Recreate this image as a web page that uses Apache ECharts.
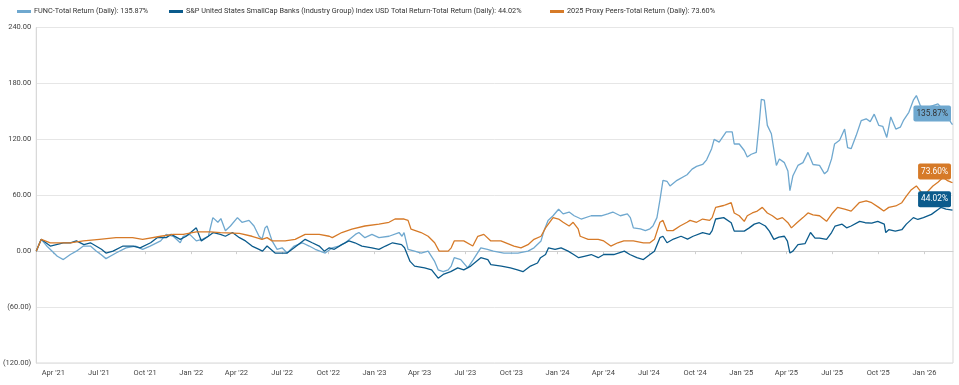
<!DOCTYPE html>
<html><head><meta charset="utf-8">
<script src="https://cdn.jsdelivr.net/npm/echarts@6.0.0/dist/echarts.min.js"></script>
<style>html,body{margin:0;padding:0;background:#fff}#c{width:959px;height:385px}</style>
</head><body><div id="c"></div>
<script>
const seriesNames = [
  "FUNC-Total Return (Daily): 135.87%",
  "S&P United States SmallCap Banks (Industry Group) Index USD Total Return-Total Return (Daily): 44.02%",
  "2025 Proxy Peers-Total Return (Daily): 73.60%"
];
const endLabels = ["135.87%", "44.02%", "73.60%"];
const colors = ["#6FA8CF", "#0B5B8C", "#D67A28"];
const labelTextColors = ["#333333", "#ffffff", "#ffffff"];

const funcDates = ['2021-02-26','2021-03-08','2021-03-20','2021-04-09','2021-04-21','2021-05-05','2021-05-17','2021-05-31','2021-06-14','2021-06-26','2021-07-05','2021-07-15','2021-08-04','2021-08-24','2021-09-12','2021-09-26','2021-10-11','2021-11-01','2021-11-12','2021-11-26','2021-12-10','2021-12-16','2021-12-29','2022-01-11','2022-01-24','2022-02-04','2022-02-13','2022-02-23','2022-03-01','2022-03-10','2022-03-20','2022-04-03','2022-04-12','2022-04-26','2022-05-06','2022-05-16','2022-05-22','2022-05-28','2022-06-01','2022-06-11','2022-06-21','2022-07-01','2022-07-11','2022-07-25','2022-08-10','2022-08-24','2022-09-05','2022-09-25','2022-10-09','2022-10-22','2022-11-04','2022-11-24','2022-12-01','2022-12-13','2022-12-27','2023-01-10','2023-01-30','2023-02-19','2023-02-25','2023-03-01','2023-03-09','2023-03-22','2023-04-04','2023-04-18','2023-05-01','2023-05-08','2023-05-18','2023-05-28','2023-06-03','2023-06-09','2023-06-22','2023-07-06','2023-07-17','2023-08-01','2023-08-14','2023-08-26','2023-09-16','2023-10-14','2023-11-03','2023-11-15','2023-11-29','2023-12-05','2023-12-13','2023-12-23','2024-01-03','2024-01-12','2024-01-24','2024-02-03','2024-02-17','2024-03-08','2024-03-28','2024-04-10','2024-04-20','2024-05-05','2024-05-19','2024-05-25','2024-05-31','2024-06-14','2024-06-24','2024-07-03','2024-07-09','2024-07-17','2024-07-23','2024-07-29','2024-08-06','2024-08-12','2024-08-26','2024-09-15','2024-09-25','2024-10-04','2024-10-16','2024-10-24','2024-11-03','2024-11-08','2024-11-18','2024-12-02','2024-12-14','2024-12-18','2024-12-28','2025-01-07','2025-01-13','2025-01-21','2025-01-31','2025-02-06','2025-02-10','2025-02-16','2025-02-22','2025-03-02','2025-03-12','2025-03-18','2025-03-28','2025-04-04','2025-04-08','2025-04-14','2025-04-24','2025-05-04','2025-05-14','2025-05-24','2025-06-06','2025-06-16','2025-06-22','2025-06-30','2025-07-06','2025-07-16','2025-07-26','2025-08-01','2025-08-08','2025-08-18','2025-08-28','2025-09-07','2025-09-15','2025-09-23','2025-10-02','2025-10-10','2025-10-18','2025-10-26','2025-11-05','2025-11-14','2025-11-20','2025-12-01','2025-12-10','2025-12-16','2025-12-24','2026-01-04','2026-01-12','2026-01-28','2026-02-10','2026-02-23','2026-02-26'];
const funcValues = [0,12.7,5,-5.5,-9,-3.6,0,5.5,5.5,0,-3.6,-8,-2,3.6,5.5,2,5.5,11,18,16,9,16,18,11,13,16,36,31,35,22,27,36,31,33,27,16,13,25,27,11,2,3.6,-2,5.5,9,5.5,2,-2,3.6,5.5,9,18,20,14.5,18,14.5,16,20,16,20,2,0,-2,0,-11,-20,-22,-20,-16,-7,-9,-18,-9,3.6,2,0,-2,-2,0,3.6,11,22,33,38,45,40,42,38,34.5,38,38,40,42,38,40,36,25,24,22,24,27,36,55,76,75,70,76,82,88,91,93,98,110,120,117,128,128,115,115,108,101,104,106,138,163,162,135,126,92,99,95,86,65,81,92,95,106,93,92,83,86,99,115,119,131,111,110,124,140,142,139,147,135,134,122,144,131,133,140,149,162,167,156,152,155,158,150,138,135.87];

const banksDates = ['2021-02-26','2021-03-08','2021-03-26','2021-04-21','2021-05-05','2021-05-17','2021-06-01','2021-06-14','2021-07-06','2021-07-15','2021-07-29','2021-08-18','2021-09-07','2021-09-21','2021-10-12','2021-10-25','2021-11-12','2021-11-22','2021-12-10','2021-12-22','2022-01-11','2022-01-21','2022-02-04','2022-02-14','2022-02-28','2022-03-10','2022-03-24','2022-04-07','2022-04-19','2022-05-02','2022-05-16','2022-05-23','2022-06-01','2022-06-17','2022-07-11','2022-07-25','2022-08-16','2022-08-30','2022-09-13','2022-09-23','2022-10-03','2022-10-13','2022-10-28','2022-11-11','2022-11-23','2022-12-07','2022-12-27','2023-01-10','2023-01-23','2023-02-06','2023-02-24','2023-03-02','2023-03-13','2023-03-22','2023-04-11','2023-04-25','2023-05-08','2023-05-18','2023-06-02','2023-06-16','2023-06-28','2023-07-12','2023-08-01','2023-08-15','2023-08-21','2023-09-11','2023-09-29','2023-10-13','2023-10-24','2023-11-08','2023-11-22','2023-11-28','2023-12-08','2023-12-14','2023-12-27','2024-01-08','2024-01-22','2024-02-02','2024-02-12','2024-02-23','2024-03-08','2024-03-22','2024-04-02','2024-04-22','2024-05-13','2024-05-24','2024-06-07','2024-06-20','2024-07-03','2024-07-12','2024-07-23','2024-07-29','2024-08-06','2024-08-19','2024-09-03','2024-09-16','2024-09-27','2024-10-16','2024-10-30','2024-11-04','2024-11-11','2024-11-27','2024-12-12','2024-12-18','2025-01-07','2025-01-17','2025-01-27','2025-02-06','2025-02-18','2025-02-26','2025-03-07','2025-03-17','2025-03-28','2025-04-03','2025-04-08','2025-04-14','2025-04-24','2025-05-08','2025-05-19','2025-05-28','2025-06-06','2025-06-20','2025-06-30','2025-07-07','2025-07-21','2025-07-30','2025-08-08','2025-08-25','2025-09-05','2025-09-18','2025-09-30','2025-10-13','2025-10-16','2025-10-22','2025-11-04','2025-11-17','2025-11-26','2025-12-10','2025-12-19','2025-12-30','2026-01-15','2026-01-29','2026-02-03','2026-02-13','2026-02-26'];
const banksValues = [0,12.7,5.5,9,9,11,7,9,2,-2,0,5.5,5.5,3.6,9,14.5,14.5,18,12.7,16,25,11,16,20,18,16,20,14.5,11,5.5,2,0,5.5,-2,-2,3.6,12.7,9,5.5,0,3.6,2,7,11,9,5.5,3.6,2,5.5,9,7,3.6,-11,-16,-18,-20,-29,-25,-22,-18,-20,-16,-7,-9,-14.5,-16,-18,-20,-22,-16,-12.7,-7,-3.6,3.6,2,3.6,0,-3.6,-7,-5.5,-3.6,-7,-3.6,-3.6,0,-3.6,-7,-9,-3.6,0,14.5,16,9,13,16,13,16,20,18,22,34.5,36,30.5,21.5,21.5,25,29,30.5,27,21.5,12.6,15,16,10.8,-2,0,7,8,20,14,14,12.6,20,27,29,25,27,32,30.5,30,32,29,20,23,21.5,23,29,36,34,36,39.5,45,47,45,44.02];

const peersDates = ['2021-02-26','2021-03-08','2021-03-26','2021-04-09','2021-05-05','2021-05-31','2021-07-02','2021-08-04','2021-09-06','2021-09-26','2021-11-01','2021-11-26','2021-12-16','2022-01-11','2022-02-08','2022-02-28','2022-04-07','2022-05-02','2022-05-22','2022-06-01','2022-06-11','2022-07-07','2022-07-27','2022-08-16','2022-09-13','2022-10-03','2022-10-09','2022-10-28','2022-11-17','2022-12-13','2023-01-10','2023-01-30','2023-02-11','2023-03-01','2023-03-09','2023-03-15','2023-04-04','2023-04-18','2023-05-01','2023-05-10','2023-05-28','2023-06-03','2023-06-09','2023-06-28','2023-07-16','2023-07-26','2023-08-07','2023-08-21','2023-09-10','2023-10-06','2023-10-20','2023-11-03','2023-11-15','2023-11-29','2023-12-08','2023-12-23','2024-01-03','2024-01-12','2024-01-24','2024-02-01','2024-02-11','2024-02-15','2024-03-02','2024-03-22','2024-04-02','2024-04-16','2024-04-30','2024-05-12','2024-05-31','2024-06-20','2024-07-03','2024-07-12','2024-07-23','2024-07-29','2024-08-06','2024-08-18','2024-09-01','2024-09-15','2024-09-21','2024-10-04','2024-10-16','2024-10-30','2024-11-04','2024-11-11','2024-11-27','2024-12-02','2024-12-12','2024-12-18','2024-12-28','2025-01-07','2025-01-13','2025-01-23','2025-02-02','2025-02-12','2025-02-22','2025-03-04','2025-03-14','2025-03-24','2025-04-04','2025-04-11','2025-04-22','2025-05-04','2025-05-14','2025-05-24','2025-06-06','2025-06-20','2025-07-02','2025-07-12','2025-07-26','2025-08-08','2025-08-24','2025-09-07','2025-09-18','2025-10-02','2025-10-12','2025-10-22','2025-11-05','2025-11-17','2025-11-26','2025-12-06','2025-12-16','2025-12-26','2026-01-04','2026-01-18','2026-01-28','2026-02-07','2026-02-15','2026-02-23','2026-02-26'];
const peersValues = [0,12.7,9,9,9,11,12.7,14.5,14.5,12.7,16,18,18,20.7,20.7,20,19,16,12.7,14.5,11,11,12.7,18,18,16,14.5,20,23.6,27,29,31,34.5,34.5,33,23.6,20,16,9,0,0,3.6,11,11,5.5,16,18,11,11,5.5,3.6,7,12.7,16,25,36,34.5,31,27,31,24,16,12.7,12.7,11,5.5,9,11,11,9,9,12.7,31,33,22,22,27,31,33,31,34.5,33,36,47,49,50,52,41,38,32,38,41,43,47,41,38,34,36,30.5,25,30.5,36,41,39,38,32,41,47,45,43,52,54,52,47,43,47,48.5,52,59,66,70,63,62,70,74,79,76,74,73.6];

const xTickDates = ['2021-04-01','2021-07-01','2021-10-01','2022-01-01','2022-04-01','2022-07-01','2022-10-01','2023-01-01','2023-04-01','2023-07-01','2023-10-01','2024-01-01','2024-04-01','2024-07-01','2024-10-01','2025-01-01','2025-04-01','2025-07-01','2025-10-01','2026-01-01'];
const monthNames = ['Jan','Feb','Mar','Apr','May','Jun','Jul','Aug','Sep','Oct','Nov','Dec'];

const FONT = 'Roboto, "Liberation Sans", sans-serif';
const toTs = d => { const p = d.split('-').map(Number); return Date.UTC(p[0], p[1]-1, p[2]); };

const allDates = [funcDates, banksDates, peersDates];
const allValues = [funcValues, banksValues, peersValues];

const series = seriesNames.map((name, i) => {
  const dates = allDates[i], vals = allValues[i];
  const data = dates.map((d, j) => [toTs(d), vals[j]]);
  const last = data[data.length - 1];
  return {
    name, type: 'line', data, showSymbol: false, symbol: 'none',
    lineStyle: { width: 1.3, color: colors[i] }, itemStyle: { color: colors[i] },
    animation: false, z: 2 + i,
    markPoint: {
      symbol: 'circle', symbolSize: 1, silent: true, animation: false,
      itemStyle: { color: 'rgba(0,0,0,0)' },
      label: {
        show: true, position: 'left', distance: 1, offset: [0, -11],
        formatter: endLabels[i], backgroundColor: colors[i], color: labelTextColors[i],
        fontFamily: FONT, fontSize: 8.3, padding: [4, 3, 4, 3], borderRadius: 2
      },
      data: [{ coord: last }]
    }
  };
});

const legendLefts = [12, 164, 545];
const legends = seriesNames.map((name, i) => ({
  left: legendLefts[i], top: 3, icon: 'rect', itemWidth: 14, itemHeight: 3, itemGap: 0,
  textStyle: { fontFamily: FONT, fontSize: 7.3, color: '#333', padding: [0, 0, 0, -2] },
  data: [name]
}));

const tickTs = xTickDates.map(toTs);
const chart = echarts.init(document.getElementById('c'), null, { renderer: 'canvas' });
chart.setOption({
  animation: false,
  color: colors,
  legend: legends,
  grid: { left: 30, right: 6, top: 27.5, bottom: 22, show: true, borderColor: '#d9d9d9', borderWidth: 1 },
  xAxis: {
    type: 'value', min: toTs('2021-02-26'), max: toTs('2026-02-27'),
    axisLine: { lineStyle: { color: '#cfcfcf' } },
    axisTick: { show: true, customValues: tickTs, length: 3, lineStyle: { color: '#cfcfcf' } },
    axisLabel: {
      customValues: tickTs, fontFamily: FONT, fontSize: 7.5, color: '#444', margin: 6,
      formatter: v => { const d = new Date(v); return monthNames[d.getUTCMonth()] + " '" + String(d.getUTCFullYear()).slice(2); }
    },
    splitLine: { show: false }
  },
  yAxis: {
    type: 'value', min: -120, max: 240, interval: 60,
    axisLine: { show: true, lineStyle: { color: '#d9d9d9' } },
    axisTick: { show: false },
    axisLabel: {
      fontFamily: FONT, fontSize: 7.5, color: '#444', margin: 5,
      formatter: v => v < 0 ? '(' + Math.abs(v).toFixed(2) + ')' : v.toFixed(2)
    },
    splitLine: { lineStyle: { color: '#e6e6e6' } }
  },
  series
});
</script></body></html>
